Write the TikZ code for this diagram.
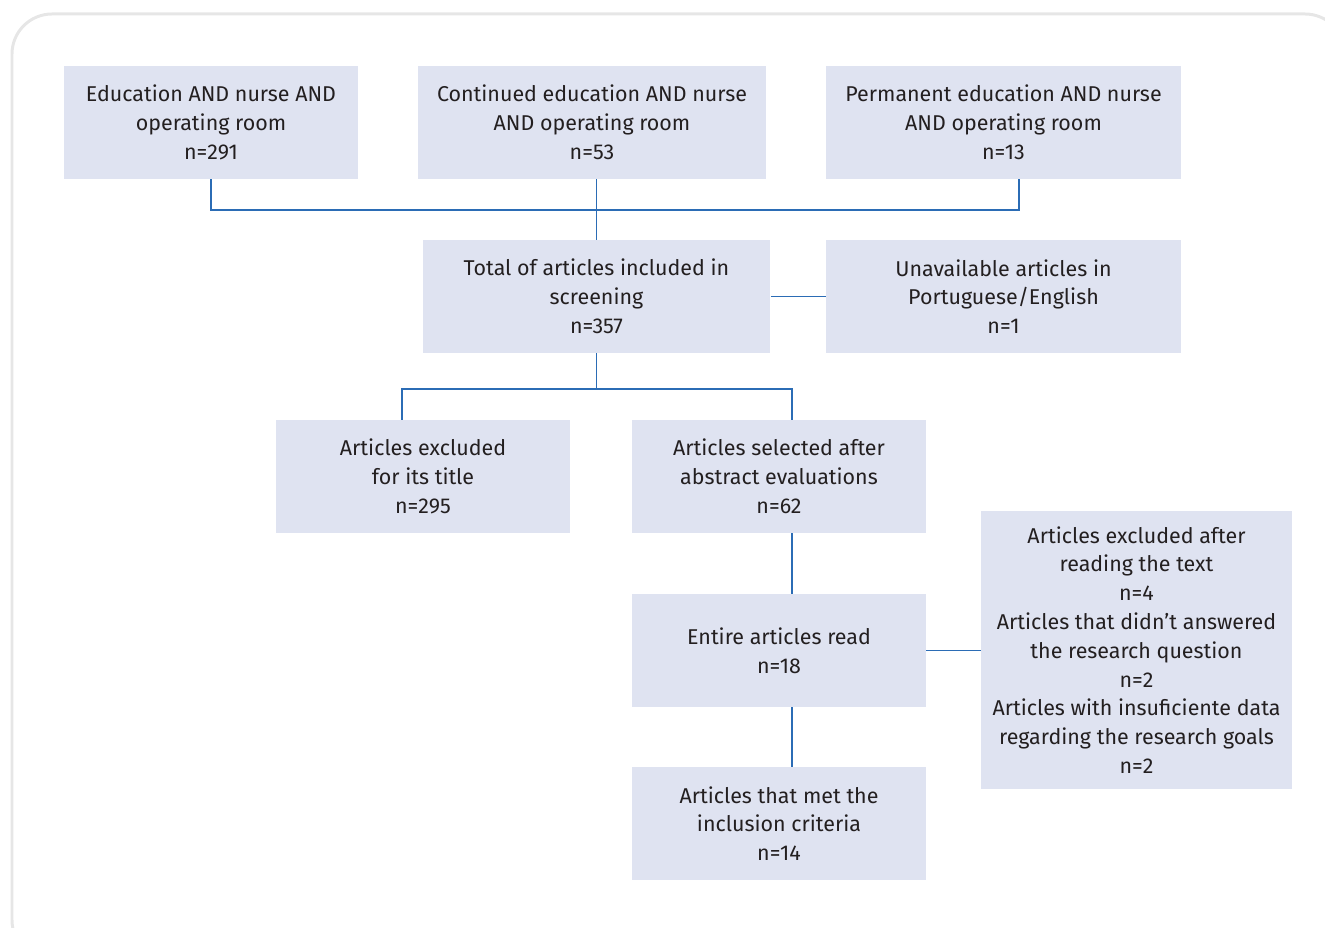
\documentclass[tikz,border=0pt]{standalone}
\usepackage{fontspec}
\setmainfont{Fira Sans}
\definecolor{boxfill}{HTML}{DFE3F1}
\definecolor{linkblue}{HTML}{2B6CB5}
\definecolor{inktext}{HTML}{231F20}
\definecolor{framegray}{HTML}{E6E6E6}

\begin{document}
\begin{tikzpicture}[
	x=0.02cm,
	y=-0.02cm,
	font=\fontsize{12.2}{16.4}\selectfont,
	align=center,
	box/.style={
		fill=boxfill,
		text=inktext,
		minimum width=5.88cm,
		minimum height=2.26cm,
		inner sep=0pt
	},
	link/.style={
		draw=linkblue,
		line width=0.85pt
	}]

	\useasboundingbox (0,0) rectangle (1325,928);
	\draw[framegray, line width=1.7pt, rounded corners=0.8cm] (12,14) rectangle (1345,960);

	% search strings
	\node[box] (edu) at (211,122.5) {Education AND nurse AND\\operating room\\n=291};
	\node[box, minimum width=6.96cm] (cont) at (592,122.5) {Continued education AND nurse\\AND operating room\\n=53};
	\node[box, minimum width=7.1cm] (perm) at (1003.5,122.5) {Permanent education AND nurse\\AND operating room\\n=13};

	% screening
	\node[box, minimum width=6.96cm] (total) at (596.5,296.5) {Total of articles included in\\screening\\n=357};
	\node[box, minimum width=7.1cm] (unav) at (1003.5,296.5) {Unavailable articles in\\Portuguese/English\\n=1};

	\node[box] (title) at (423,476.5) {Articles excluded\\for its title\\n=295};
	\node[box] (abstr) at (779,476.5) {Articles selected after\\abstract evaluations\\n=62};
	\node[box] (read) at (779,650.5) {Entire articles read\\n=18};
	\node[box, minimum width=6.22cm, minimum height=5.56cm] (excl) at (1136.5,650) {Articles excluded after\\reading the text\\n=4\\Articles that didn't answered\\the research question\\n=2\\Articles with insuficiente data\\regarding the research goals\\n=2};
	\node[box] (final) at (779,823.5) {Articles that met the\\inclusion criteria\\n=14};

	\coordinate (top) at (596.5,210);
	\coordinate (mid) at (596.5,389);

	\path[link]
	 (edu.south) |- (top)
	 (top) -| ([xshift=0.31cm]perm.south)
	 (total.north) -- (top |- cont.south)
	 (total.east) -- (unav.west)
	 (total.south) -- (mid)
	 (mid) -| ([xshift=-0.42cm]title.north)
	 (mid) -| ([xshift=0.26cm]abstr.north)
	 ([xshift=0.26cm]abstr.south) -- ([xshift=0.26cm]read.north)
	 (read.east) -- (read.east -| excl.west)
	 ([xshift=0.26cm]read.south) -- ([xshift=0.26cm]final.north);
\end{tikzpicture}
\end{document}
